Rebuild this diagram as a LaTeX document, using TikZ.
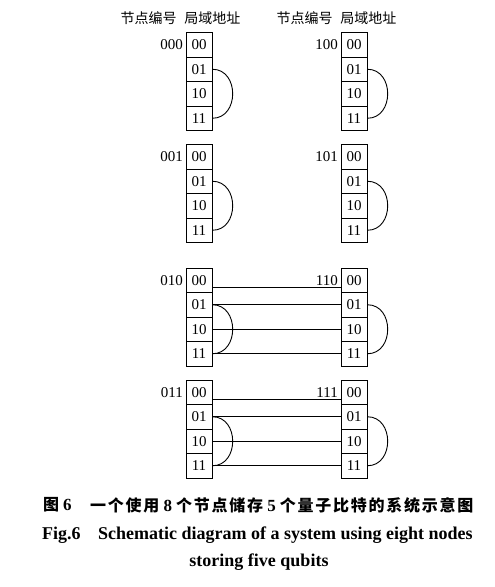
\documentclass[tikz,border=0pt]{standalone}
\usepackage{fontspec}
\setmainfont{Liberation Serif}
\newfontfamily\cjk{Noto Sans CJK SC}
\newcommand\capch[1]{\makebox[17.75pt]{#1}}
\newcommand\capdg[1]{\makebox[15pt]{\rmfamily\fontsize{17}{17}\selectfont #1}}
\begin{document}
\begin{tikzpicture}[x=1pt,y=-1pt,
  cell/.style={draw, line width=0.9pt, minimum width=26pt, minimum height=24.5pt, inner sep=0pt, font=\fontsize{15}{15}\selectfont},
  lbl/.style={inner sep=0pt, font=\fontsize{15}{15}\selectfont, anchor=east},
  hdr/.style={inner sep=0pt, font=\cjk\fontsize{14}{14}\selectfont},
  captxt/.style={inner sep=0pt, font=\bfseries\fontsize{18}{18}\selectfont},
  capcjk/.style={anchor=west, inner sep=0pt, font=\cjk\bfseries\fontsize{16}{16}\selectfont},
  wire/.style={line width=0.9pt}]
\useasboundingbox (0,0) rectangle (495,587);
\node[hdr] (h1) at (180.5,18) {节点编号\hspace{8pt}局域地址};
\node[hdr] (h2) at (336.5,18) {节点编号\hspace{8pt}局域地址};
\foreach \g/\ty/\lftlab/\rgtlab in {1/32.5/000/100, 2/144.5/001/101, 3/268/010/110, 4/380/011/111} {
  \foreach \rw/\txt in {0/00,1/01,2/10,3/11} {
    \node[cell] (L\g\rw) at (199, \ty+12.25+\rw*24.5) {\txt};
    \node[cell] (R\g\rw) at (354, \ty+12.25+\rw*24.5) {\txt};
  }
  \node[lbl] (LL\g) at ([xshift=-2.5pt]L\g0.west) {\lftlab};
  \node[lbl] (RL\g) at ([xshift=-2.5pt]R\g0.west) {\rgtlab};
  \draw[wire] (L\g1.east) .. controls +(27,0) and +(27,0) .. (L\g3.east);
  \draw[wire] (R\g1.east) .. controls +(27,0) and +(27,0) .. (R\g3.east);
}
\foreach \g in {3,4} {
  \draw[wire] ([yshift=-6.75pt]L\g0.east) -- ([yshift=-6.75pt]R\g0.west);
  \foreach \rw in {1,2,3} \draw[wire] (L\g\rw.east) -- (R\g\rw.west);
}
\node[capcjk] (c1a) at (42,505) {\capch{图}\capdg{6}};
\node[capcjk] (c1b) at (89.1,505) {\capch{一}\capch{个}\capch{使}\capch{用}\capdg{8}\capch{个}\capch{节}\capch{点}\capch{储}\capch{存}\capdg{5}\capch{个}\capch{量}\capch{子}\capch{比}\capch{特}\capch{的}\capch{系}\capch{统}\capch{示}\capch{意}\capch{图}};
\node[captxt, anchor=base west] (c2a) at (42,539) {Fig.6};
\node[captxt, anchor=base west] (c2b) at (98,539) {Schematic diagram of a system using eight nodes};
\node[captxt, anchor=base] (c3) at (259,566) {storing five qubits};
\end{tikzpicture}
\end{document}
